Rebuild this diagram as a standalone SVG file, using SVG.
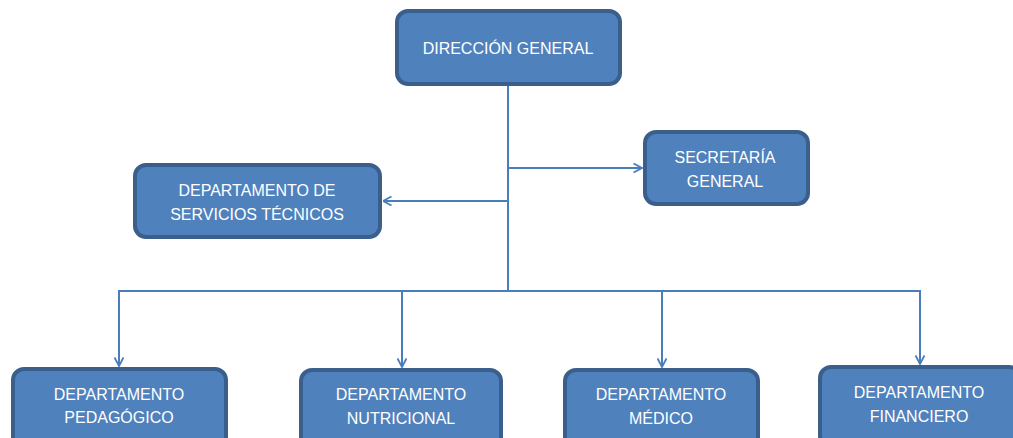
<svg xmlns="http://www.w3.org/2000/svg" width="1013" height="438" viewBox="0 0 1013 438">
<style>
.box{fill:#4F81BD;stroke:#3A5F8C;stroke-width:4}
.t{fill:#ffffff;font-family:"Liberation Sans",Arial,sans-serif;font-size:16px;text-anchor:middle}
.c{fill:none;stroke:#4A7EBB;stroke-width:2}
</style>
<defs>
<marker id="ah" viewBox="0 0 10 10" refX="9.5" refY="5" markerWidth="10" markerHeight="10" markerUnits="userSpaceOnUse" orient="auto">
<path d="M1,0.5 L9.5,5 L1,9.5" fill="none" stroke="#4A7EBB" stroke-width="1.8"/>
</marker>
</defs>
<rect width="1013" height="438" fill="#ffffff"/>
<g id="connectors">
<line class="c" x1="508" y1="86" x2="508" y2="291"/>
<line class="c" x1="508" y1="168" x2="642" y2="168" marker-end="url(#ah)"/>
<line class="c" x1="508" y1="201" x2="383" y2="201" marker-end="url(#ah)"/>
<polyline class="c" points="119,366 119,291 920,291 920,364" marker-end="url(#ah)"/>
<line class="c" x1="402" y1="291" x2="402" y2="367" marker-end="url(#ah)"/>
<line class="c" x1="662" y1="291" x2="662" y2="367" marker-end="url(#ah)"/>
<line class="c" x1="119" y1="291" x2="119" y2="366" marker-end="url(#ah)"/>
</g>
<g id="n-direccion">
<rect class="box" x="397" y="11" width="223" height="73" rx="11"/>
<text class="t" x="508" y="54">DIRECCIÓN GENERAL</text>
</g>
<g id="n-secretaria">
<rect class="box" x="645" y="132" width="163" height="72" rx="11"/>
<text class="t" x="725" y="163">SECRETARÍA</text>
<text class="t" x="725" y="187">GENERAL</text>
</g>
<g id="n-servicios">
<rect class="box" x="135" y="165" width="245" height="72" rx="11"/>
<text class="t" x="257" y="196">DEPARTAMENTO DE</text>
<text class="t" x="257" y="220">SERVICIOS TÉCNICOS</text>
</g>
<g id="n-pedagogico">
<rect class="box" x="13" y="369" width="213" height="80" rx="11"/>
<text class="t" x="119" y="400">DEPARTAMENTO</text>
<text class="t" x="119" y="423">PEDAGÓGICO</text>
</g>
<g id="n-nutricional">
<rect class="box" x="301" y="370" width="200" height="80" rx="11"/>
<text class="t" x="401" y="400">DEPARTAMENTO</text>
<text class="t" x="401" y="424">NUTRICIONAL</text>
</g>
<g id="n-medico">
<rect class="box" x="565" y="370" width="193" height="80" rx="11"/>
<text class="t" x="661" y="400">DEPARTAMENTO</text>
<text class="t" x="661" y="424">MÉDICO</text>
</g>
<g id="n-financiero">
<rect class="box" x="820" y="367" width="200" height="80" rx="11"/>
<text class="t" x="919" y="398">DEPARTAMENTO</text>
<text class="t" x="919" y="422">FINANCIERO</text>
</g>
</svg>
